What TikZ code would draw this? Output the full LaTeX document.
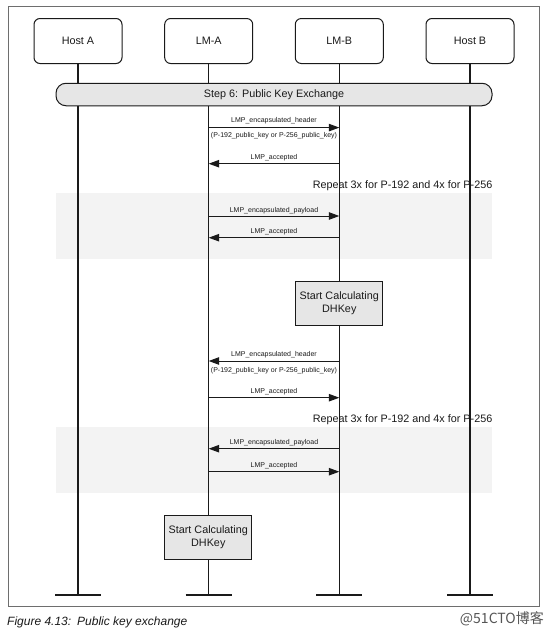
\documentclass[tikz,border=0pt]{standalone}
\usepackage{fontspec}
\setmainfont{Liberation Sans}
\newfontfamily\cjkfont{Noto Sans CJK SC}
\usetikzlibrary{arrows.meta}
\definecolor{boxgray}{HTML}{E6E6E6}
\definecolor{bandgray}{HTML}{F3F3F3}
\definecolor{framegray}{HTML}{6E6E6E}
\definecolor{ink}{HTML}{1A1A1A}
\definecolor{wmgray}{HTML}{555555}
\begin{document}
\begin{tikzpicture}[x=1pt,y=-1pt,
  headbox/.style={draw=ink,line width=1pt,rounded corners=6pt,minimum width=88pt,minimum height=45pt,inner sep=0pt,fill=white,text=ink,font=\fontsize{10.8}{13}\selectfont},
  calcbox/.style={draw=ink,line width=1pt,fill=boxgray,minimum width=87pt,minimum height=44pt,inner sep=0pt,align=center,text=ink,font=\fontsize{10.8}{13.4}\selectfont},
  stepbar/.style={draw=ink,line width=1pt,fill=boxgray,rounded corners=10pt,minimum width=436pt,minimum height=22.5pt,inner sep=0pt,text=ink,font=\fontsize{10.8}{13}\selectfont},
  life/.style={draw=ink,line width=1.2pt},
  endbar/.style={draw=ink,line width=2.6pt},
  msg/.style={draw=ink,line width=1pt,-{Triangle[length=10.5pt,width=7.5pt]}},
  msglabel/.style={font=\fontsize{7}{8}\selectfont,inner sep=0pt,text=ink},
  band/.style={fill=bandgray,draw=none},
  repeatlabel/.style={font=\fontsize{10.8}{13}\selectfont,inner sep=0pt,anchor=east,text=ink},
]
\useasboundingbox (0,0) rectangle (554,635);
\fill[white] (0,0) rectangle (554,635);

% repeat bands
\fill[band] (56,193) rectangle (492,259.3);
\fill[band] (56,427.3) rectangle (492,492.7);

% heads
\node[headbox] (hA) at (78,41) {Host A};
\node[headbox] (lA) at (208.7,41) {LM-A};
\node[headbox] (lB) at (339.3,41) {LM-B};
\node[headbox] (hB) at (470,41) {Host B};

% lifeline ends
\coordinate (hAend) at (78,595);
\coordinate (lAend) at (208.7,595);
\coordinate (lBend) at (339.3,595);
\coordinate (hBend) at (470,595);

\draw[life] (hA.south) -- (hAend);
\draw[life] (lA.south) -- (lAend);
\draw[life] (lB.south) -- (lBend);
\draw[life] (hB.south) -- (hBend);

\foreach \e in {hAend,lAend,lBend,hBend}{
  \draw[endbar] ([xshift=-23pt]\e) -- ([xshift=23pt]\e);
}

% step bar
\node[stepbar] (step) at (274,94.5) {Step 6: Public Key Exchange};

% message end points
\coordinate (m1a) at (208.7,127.6);
\coordinate (m1b) at (339.3,127.6);
\coordinate (m2a) at (208.7,163.7);
\coordinate (m2b) at (339.3,163.7);
\coordinate (m3a) at (208.7,216);
\coordinate (m3b) at (339.3,216);
\coordinate (m4a) at (208.7,237.7);
\coordinate (m4b) at (339.3,237.7);
\coordinate (m5a) at (208.7,361);
\coordinate (m5b) at (339.3,361);
\coordinate (m6a) at (208.7,397.7);
\coordinate (m6b) at (339.3,397.7);
\coordinate (m7a) at (208.7,448.7);
\coordinate (m7b) at (339.3,448.7);
\coordinate (m8a) at (208.7,471.7);
\coordinate (m8b) at (339.3,471.7);

% first exchange
\draw[msg] (m1a) -- (m1b);
\node[msglabel] (t1) at (274,120.6) {LMP\_encapsulated\_header};
\node[msglabel] (t1s) at (274,136) {(P-192\_public\_key or P-256\_public\_key)};
\draw[msg] (m2b) -- (m2a);
\node[msglabel] (t2) at (274,157.7) {LMP\_accepted};

\node[repeatlabel] (r1) at (492.5,186) {Repeat 3x for P-192 and 4x for P-256};
\draw[msg] (m3a) -- (m3b);
\node[msglabel] (t3) at (274,210.5) {LMP\_encapsulated\_payload};
\draw[msg] (m4b) -- (m4a);
\node[msglabel] (t4) at (274,231.7) {LMP\_accepted};

\node[calcbox] (c1) at (339.3,303) {Start Calculating\\DHKey};

% second exchange
\draw[msg] (m5b) -- (m5a);
\node[msglabel] (t5) at (274,354.8) {LMP\_encapsulated\_header};
\node[msglabel] (t5s) at (274,371) {(P-192\_public\_key or P-256\_public\_key)};
\draw[msg] (m6a) -- (m6b);
\node[msglabel] (t6) at (274,391.7) {LMP\_accepted};

\node[repeatlabel] (r2) at (492.5,420) {Repeat 3x for P-192 and 4x for P-256};
\draw[msg] (m7b) -- (m7a);
\node[msglabel] (t7) at (274,442.3) {LMP\_encapsulated\_payload};
\draw[msg] (m8a) -- (m8b);
\node[msglabel] (t8) at (274,465.7) {LMP\_accepted};

\node[calcbox] (c2) at (208.3,537) {Start Calculating\\DHKey};

% frame
\draw[framegray,line width=1pt] (8.5,6.5) rectangle (539,606.5);

% caption
\node[anchor=west,inner sep=0pt,text=ink,font=\fontsize{12}{14}\selectfont\itshape] (cap) at (7,622) {Figure 4.13:\enspace Public key exchange};
\node[anchor=east,inner sep=0pt,text=wmgray,font=\cjkfont\fontsize{14}{16}\selectfont] (wm) at (544,619) {@51CTO博客};
\end{tikzpicture}
\end{document}
